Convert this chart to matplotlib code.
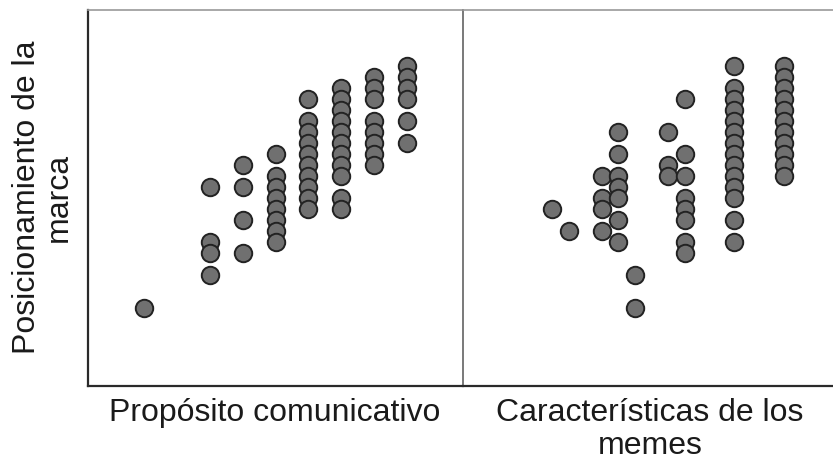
import matplotlib
matplotlib.use("Agg")
import matplotlib.pyplot as plt

# Propósito comunicativo (x) vs Posicionamiento de la marca (y)
prop_x = [2, 4, 5, 6, 7, 8, 9, 10]
prop_y = [
    [8],
    [19, 14, 13, 11],
    [21, 19, 16, 13],
    [22, 20, 19, 18, 17, 16, 15, 14],
    [27, 25, 24, 23, 22, 21, 20, 19, 18, 17],
    [28, 27, 26, 25, 24, 23, 22, 21, 20, 18, 17],
    [29, 28, 27, 25, 24, 23, 22, 21],
    [30, 29, 28, 27, 25, 23],
]

# Características de los memes (x) vs Posicionamiento de la marca (y)
memes_x = [6, 7, 9, 10, 11, 13, 14, 17, 20]
memes_y = [
    [17],
    [15],
    [20, 18, 17, 15],
    [24, 22, 20, 19, 18, 16, 14],
    [11, 8],
    [24, 21, 20],
    [27, 22, 20, 18, 17, 16, 14, 13],
    [30, 28, 27, 26, 25, 24, 23, 22, 21, 20, 19, 18, 16, 14],
    [30, 29, 28, 27, 26, 25, 24, 23, 22, 21, 20],
]

x_labels = ["Propósito comunicativo", "Características de los\nmemes"]
y_label = "Posicionamiento de la\nmarca"

W, H = 833, 466
fig = plt.figure(figsize=(W / 100, H / 100), dpi=100)
plt.rcParams["font.family"] = ["Liberation Sans", "DejaVu Sans"]

ax_l = fig.add_axes([88 / W, 80 / H, 375 / W, 376 / H])
ax_r = fig.add_axes([463 / W, 80 / H, 375 / W, 376 / H])

panels = [(ax_l, prop_x, prop_y, (0.30, 11.70)),
          (ax_r, memes_x, memes_y, (0.63, 23.26))]
for ax, xs, ys, xlim in panels:
    for x, col in zip(xs, ys):
        ax.scatter([x] * len(col), col, s=158, c="#707070",
                   edgecolors="#222222", linewidths=1.4, zorder=3)
    ax.set_xlim(*xlim)
    ax.set_ylim(0.94, 35.07)
    ax.set_xticks([])
    ax.set_yticks([])
    ax.spines["top"].set_color("#9a9a9a")
    ax.spines["top"].set_linewidth(1.2)
    ax.spines["bottom"].set_color("#2a2a2a")
    ax.spines["bottom"].set_linewidth(1.6)

ax_l.spines["left"].set_color("#2a2a2a")
ax_l.spines["left"].set_linewidth(1.6)
ax_l.spines["right"].set_visible(False)
# divider between the two panels
ax_r.spines["left"].set_color("#555555")
ax_r.spines["left"].set_linewidth(1.1)
ax_r.spines["right"].set_visible(False)

fig.text(275 / W, 1 - 398 / H, x_labels[0], ha="center", va="top",
         fontsize=23, color="#1a1a1a")
fig.text(650 / W, 1 - 398 / H, x_labels[1], ha="center", va="top",
         fontsize=23, color="#1a1a1a", multialignment="center",
         linespacing=1.12)
fig.text(43 / W, 1 - 197 / H, y_label, ha="center", va="center",
         rotation=90, fontsize=23, color="#1a1a1a",
         multialignment="center", linespacing=1.05)

fig.savefig("out.png", dpi=100)
